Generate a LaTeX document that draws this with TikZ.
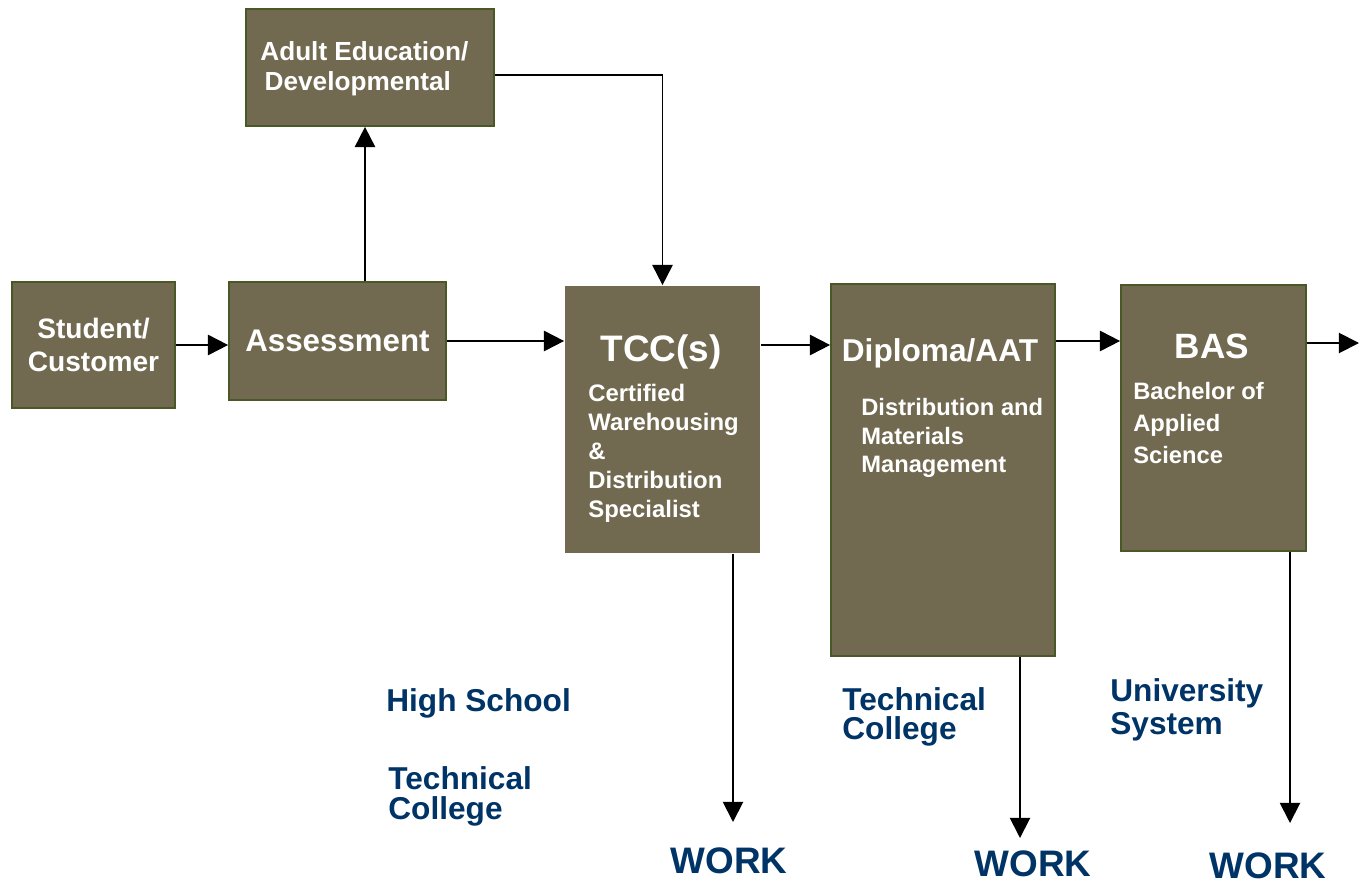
\documentclass[tikz,border=0pt]{standalone}
\usepackage{fontspec}
\setmainfont{Liberation Sans}
\usetikzlibrary{arrows.meta}
\definecolor{boxfill}{RGB}{113,106,80}
\definecolor{boxline}{RGB}{74,88,40}
\definecolor{navy}{RGB}{0,51,102}
\begin{document}
\begin{tikzpicture}[x=0.02cm, y=-0.02cm, >={Triangle[length=11.5pt,width=11.5pt]},
	stage/.style={draw=boxline, line width=1pt, fill=boxfill, text=white, align=center, inner sep=0pt},
	head/.style={text=white, inner sep=0pt},
	sub/.style={text=white, inner sep=0pt, align=left, anchor=west},
	tag/.style={text=navy, inner sep=0pt, align=left, anchor=west},
	work/.style={text=navy, inner sep=0pt, font=\bfseries\fontsize{21}{24}\selectfont}]
		\useasboundingbox (0,0) rectangle (1359,882);
		\node[stage, minimum width=3.26cm, minimum height=2.52cm, font=\bfseries\fontsize{16}{18.7}\selectfont] (stud) at (93.5,345) {Student/\\Customer};
		\node[stage, minimum width=4.34cm, minimum height=2.36cm, font=\bfseries\fontsize{17.8}{20}\selectfont] (assess) at (337.5,341) {Assessment};
		\node[stage, minimum width=4.96cm, minimum height=2.34cm] (adult) at (370,67.5) {};
		\node[head, align=left, anchor=west, font=\bfseries\fontsize{14.9}{17}\selectfont] (adulttext) at (260,69) {Adult Education/\\\,Developmental};
		\node[stage, draw=none, minimum width=3.9cm, minimum height=5.34cm] (tcc) at (662.5,419.5) {};
		\node[stage, minimum width=4.48cm, minimum height=7.44cm] (dipl) at (943,470) {};
		\node[stage, minimum width=3.7cm, minimum height=5.32cm] (bas) at (1213.5,418) {};
		\node[head, font=\bfseries\fontsize{21}{24}\selectfont] (tcchead) at (661,352) {TCC(s)};
		\node[sub, font=\bfseries\fontsize{13.6}{16.5}\selectfont] (tccsub) at (588,453) {Certified\\Warehousing\\\&\\Distribution\\Specialist};
		\node[head, font=\bfseries\fontsize{18}{21}\selectfont] (diplhead) at (940,353) {Diploma/AAT};
		\node[sub, font=\bfseries\fontsize{13.5}{16.2}\selectfont] (diplsub) at (861,438) {Distribution and\\Materials\\Management};
		\node[head, font=\bfseries\fontsize{20}{24}\selectfont] (bashead) at (1212,346) {BAS};
		\node[sub, font=\bfseries\fontsize{13.5}{18.1}\selectfont] (bassub) at (1133,423) {Bachelor of\\Applied\\Science};
		% school labels
		\node[tag, font=\bfseries\fontsize{18}{17}\selectfont] (hs) at (386,703) {High School};
		\node[tag, font=\bfseries\fontsize{18}{17}\selectfont] (tc1) at (388,796) {Technical\\College};
		\node[tag, font=\bfseries\fontsize{18}{16.5}\selectfont] (tc2) at (842,717) {Technical\\College};
		\node[tag, font=\bfseries\fontsize{18}{18.7}\selectfont] (us) at (1110,710) {University\\System};
		\node[work] (work1) at (729,861) {WORK};
		\node[work] (work2) at (1033,864) {WORK};
		\node[work] (work3) at (1268,866) {WORK};
		\coordinate (w1) at (733,822);
		\coordinate (w2) at (1020,838);
		\coordinate (w3) at (1290,823);
		\coordinate (out) at (1359,343);
		% connectors
		\draw[->, line width=1.1pt] (stud.east) -- (stud.east -| assess.west);
		\draw[->, line width=1.1pt] ([xshift=-0.1cm]assess.north -| adult.south) -- ([xshift=-0.1cm]adult.south);
		\draw[->, line width=1.1pt] (assess.east) -- (assess.east -| tcc.west);
		\draw[->, line width=1.1pt] ([yshift=-0.15cm]adult.east) -| (tcc.north);
		\draw[->, line width=1.1pt] (tcc.east |- stud.east) -- (dipl.west |- stud.east);
		\draw[->, line width=1.1pt] (dipl.east |- assess.east) -- (bas.west |- assess.east);
		\draw[->, line width=1.1pt] (bas.east |- out) -- (out);
		\draw[->, line width=1.1pt] (w1 |- tcc.south) -- (w1);
		\draw[->, line width=1.1pt] (w2 |- dipl.south) -- (w2);
		\draw[->, line width=1.1pt] (w3 |- bas.south) -- (w3);
		\end{tikzpicture}
\end{document}
